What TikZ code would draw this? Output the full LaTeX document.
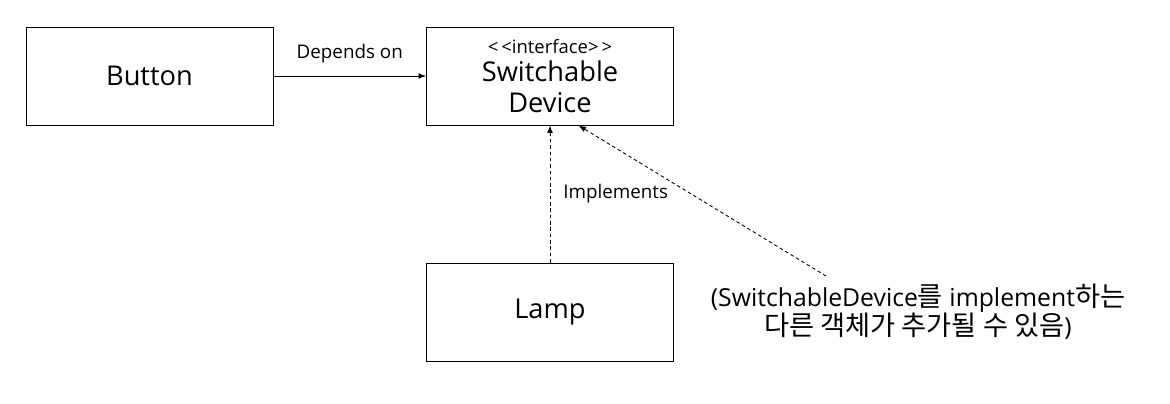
\documentclass[tikz,border=0pt]{standalone}
\usepackage{fontspec}
\setmainfont{Open Sans}
\newfontfamily\kr[Scale=1.1]{Noto Sans CJK KR}
\usetikzlibrary{positioning}

\begin{document}
\begin{tikzpicture}[x=0.02cm,y=-0.02cm,
    classbox/.style={draw,line width=0.5pt,minimum width=4.94cm,minimum height=1.96cm,
      align=center,font=\fontsize{15.5}{18}\selectfont},
    lbl/.style={font=\fontsize{10.7}{12}\selectfont},
    dep/.style={-latex,line width=0.5pt},
    impl/.style={-latex,line width=0.5pt,dash pattern=on 2pt off 1.6pt}]
    \useasboundingbox (0,0) rectangle (1170,403);
    \node[classbox] (button) at (149.5,76) {Button};
    \node[classbox] (device) at (550,76)
      {{\fontsize{10.5}{12}\selectfont <\,<interface>\,>}\\[-2pt] Switchable\\ Device};
    \node[classbox] (lamp) at (550,312) {Lamp};
    \node[align=center,font=\fontsize{14.1}{16.5}\selectfont] (note) at (918,312)
      {(SwitchableDevice{\kr 를} implement{\kr 하는}\\ {\kr 다른 객체가 추가될 수 있음})};
    \coordinate (notetip) at (826,276);
    \draw[dep] (button) -- node[lbl,above=4pt] {Depends on} (device);
    \draw[impl] (lamp) -- node[lbl,right=4pt] {Implements} (device);
    \draw[impl] (notetip) -- (device.-60);
\end{tikzpicture}
\end{document}
